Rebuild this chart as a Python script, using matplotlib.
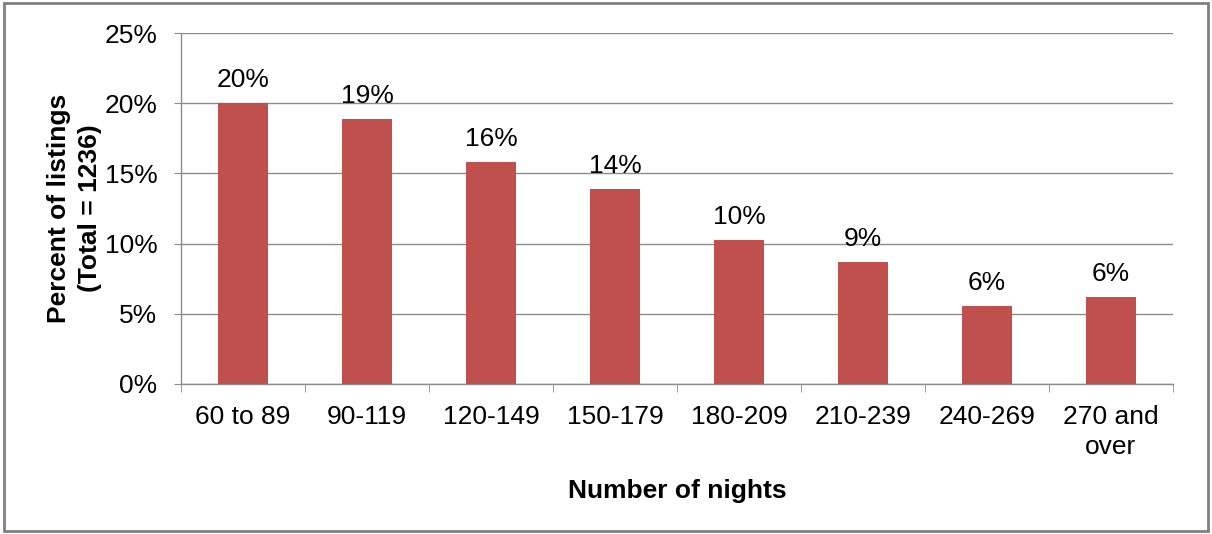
# -*- coding: utf-8 -*-

"""Bar chart of listings by number of nights."""

import matplotlib
matplotlib.use('Agg')
import matplotlib.pyplot as plt
import matplotlib.ticker as ticker
from matplotlib.patches import Rectangle

CATEGORIES = ['60 to 89', '90-119', '120-149', '150-179', '180-209', '210-239', '240-269', '270 and\nover']
PERCENTS = [20.0, 18.9, 15.8, 13.9, 10.25, 8.7, 5.57, 6.22]
Y_TICKS = [0, 5, 10, 15, 20, 25]

BAR_COLOR = '#C0504D'
GRID_COLOR = '#8C8C8C'
FONT_SIZE = 19

plt.rcParams['font.family'] = ['Liberation Sans', 'DejaVu Sans']

fig = plt.figure(figsize=(12.12, 5.34), dpi=100)
ax = fig.add_axes([0.1493, 0.2809, 0.8185, 0.6573])

positions = list(range(len(CATEGORIES)))
bars = ax.bar(positions, PERCENTS, width=0.4, color=BAR_COLOR, zorder=3)

# value labels above each bar
for bar, value in zip(bars, PERCENTS):
    ax.annotate("{:.0f}%".format(value),
                xy=(bar.get_x() + bar.get_width() / 2, bar.get_height()),
                xytext=(0, 8), textcoords='offset points',
                ha='center', va='bottom', fontsize=FONT_SIZE, zorder=4)

ax.set_xlim(-0.5, len(CATEGORIES) - 0.5)
ax.set_ylim(0, 25)
ax.set_yticks(Y_TICKS)
ax.yaxis.set_major_formatter(ticker.FuncFormatter(lambda y, pos: "{:d}%".format(int(y))))
ax.yaxis.grid(True, color=GRID_COLOR, linewidth=1.0, zorder=0)

# category labels centred, tick marks on the category boundaries
ax.set_xticks(positions)
ax.set_xticklabels(CATEGORIES, fontsize=FONT_SIZE, linespacing=1.35)
ax.tick_params(axis='x', length=0, pad=15)
ax.set_xticks([p - 0.5 for p in range(len(CATEGORIES) + 1)], minor=True)
ax.tick_params(axis='x', which='minor', length=6, color=GRID_COLOR, direction='out')
ax.tick_params(axis='y', length=5, color=GRID_COLOR, labelsize=FONT_SIZE, pad=12)

for side in ('top', 'right'):
    ax.spines[side].set_visible(False)
for side in ('left', 'bottom'):
    ax.spines[side].set_color(GRID_COLOR)
    ax.spines[side].set_linewidth(1.0)

ax.set_xlabel("Number of nights", fontsize=FONT_SIZE, fontweight='bold', labelpad=14)
ax.set_ylabel("Percent of listings\n(Total = 1236)", fontsize=FONT_SIZE, fontweight='bold',
              labelpad=2, linespacing=1.35)

# grey frame around the whole chart
fig.patches.append(Rectangle((0.003, 0.006), 0.994, 0.988, transform=fig.transFigure,
                             fill=False, edgecolor='#808080', linewidth=2))

fig.savefig('out.png', dpi=100)
